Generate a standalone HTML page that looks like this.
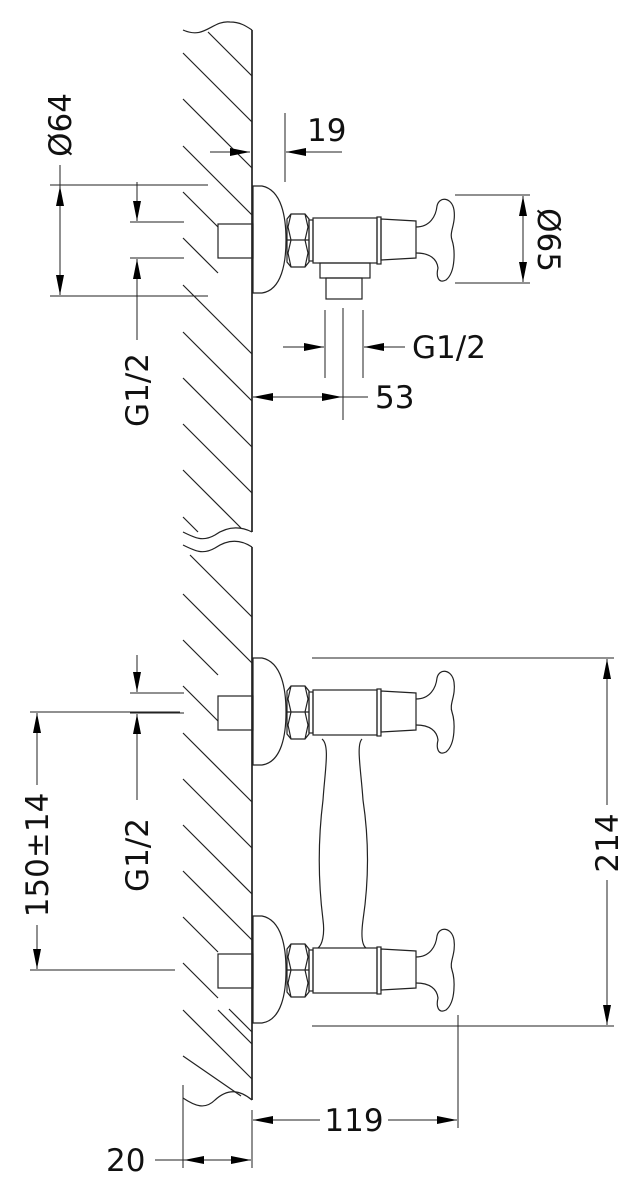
<!DOCTYPE html>
<html><head><meta charset="utf-8"><style>
html,body{margin:0;padding:0;background:#fff}
svg{display:block}
text{font-family:"DejaVu Sans","Liberation Sans",sans-serif;font-size:31px;fill:#111}
</style></head><body>
<svg width="636" height="1200" viewBox="0 0 636 1200" xmlns="http://www.w3.org/2000/svg">
<defs>
<marker id="a" viewBox="0 0 20 8" refX="20" refY="4" markerWidth="20" markerHeight="8" markerUnits="userSpaceOnUse" orient="auto"><path d="M0,0 L20,4 L0,8 z" fill="#000"/></marker>
<g id="hs" fill="none" stroke="#222" stroke-width="1.2">
<path d="M253,186 L253,293 L262,293 C282,290 286,262 286,240 C286,218 282,190 262,186 Z"/>
<rect x="218" y="224" width="35" height="34"/>
<path d="M287,219 L291,214 L305,214 L309,219 L309,262 L305,267 L291,267 L287,262 Z M287,240 L309,240 M291,214 L288,227 L291,240 L288,253 L291,267 M305,214 L308,227 L305,240 L308,253 L305,267"/>
<rect x="309" y="220" width="4" height="41"/>
<rect x="313" y="218" width="64" height="45"/>
<rect x="377" y="217" width="4" height="47"/>
<path d="M381,219 L416,221 L416,258 L381,260 Z"/>
<path d="M416,227 C430,227 436,216 437,206 C439,196 452,197 454,210 C456,224 449,232 452,240 C455,249 456,272 446,280 C438,284 436,276 438,268 C437,259 430,253 416,253"/>
</g>
</defs>
<g fill="none" stroke="#222" stroke-width="1.2">
<path d="M252,30 L252,532" stroke-width="1.7"/>
<path d="M183,30 C205,40 212,20 230,22 C240,22 246,26 252,30"/>
<path d="M183,532 C195,538 203,542 215,535 C228,526 240,526 252,532"/>
<path d="M183,545 C195,551 203,555 215,548 C228,539 240,539 252,547"/>
<path d="M252,547 L252,1100" stroke-width="1.7"/>
<path d="M183,1098 C195,1106 205,1110 215,1100 C228,1088 240,1090 252,1100"/>
<path d="M208,32 L252,76 M183,53 L252,122 M183,99 L252,168 M183,146 L252,215 M183,192 L218,227 M183,238 L218,273 M183,285 L252,354 M183,332 L252,401 M183,378 L252,447 M183,424 L252,493 M183,470 L241,528 M183,517 L198,532
M190,555 L252,617 M183,594 L252,663 M183,640 L218,675 M183,686 L218,721 M183,733 L252,802 M183,779 L252,848 M183,825 L252,894 M183,871 L252,940 M183,917 L218,952 M183,963 L218,998 M229,1009 L252,1032 M183,1010 L252,1079 M183,1056 L241,1096"/>
<path d="M218,1010 L252,1044"/>
</g>
<use href="#hs"/>
<use href="#hs" transform="translate(0,472)"/>
<use href="#hs" transform="translate(0,730)"/>
<g fill="none" stroke="#222" stroke-width="1.2">
<rect x="320" y="263" width="50" height="15"/>
<rect x="326" y="278" width="36" height="21"/>
<path d="M322,739 C330,745 325,770 323,800 C318,840 318,880 323,920 C325,935 322,945 318,948"/>
<path d="M362,739 C356,745 361,770 363,800 C369,840 369,880 363,920 C361,935 362,945 366,948"/>
</g>
<g fill="none" stroke="#222" stroke-width="1">
<path d="M285,113 L285,182"/>
<path d="M210,152 L250,152" marker-end="url(#a)"/>
<path d="M342,152 L286,152" marker-end="url(#a)"/>
<path d="M50,185 L208,185 M50,296 L208,296"/>
<path d="M60,165 L60,240" /><path d="M60,240 L60,186" marker-end="url(#a)"/><path d="M60,240 L60,295" marker-end="url(#a)"/>
<path d="M130,222 L184,222 M130,258 L184,258"/>
<path d="M137,182 L137,221" marker-end="url(#a)"/><path d="M137,340 L137,259" marker-end="url(#a)"/>
<path d="M455,195 L530,195 M455,283 L530,283"/>
<path d="M523,240 L523,196" marker-end="url(#a)"/><path d="M523,240 L523,282" marker-end="url(#a)"/>
<path d="M325,310 L325,378 M363,310 L363,378 M343,308 L343,420"/>
<path d="M283,347 L324,347" marker-end="url(#a)"/><path d="M405,347 L364,347" marker-end="url(#a)"/>
<path d="M300,397 L253,397" marker-end="url(#a)"/><path d="M300,397 L342,397" marker-end="url(#a)"/><path d="M342,397 L368,397"/>
<path d="M312,658 L614,658 M312,1026 L614,1026"/>
<path d="M607,805 L607,659" marker-end="url(#a)"/><path d="M607,880 L607,1025" marker-end="url(#a)"/>
<path d="M30,712 L180,712 M30,970 L175,970"/>
<path d="M37,785 L37,713" marker-end="url(#a)"/><path d="M37,925 L37,969" marker-end="url(#a)"/>
<path d="M130,693 L184,693 M130,713 L184,713"/>
<path d="M137,655 L137,692" marker-end="url(#a)"/><path d="M137,800 L137,714" marker-end="url(#a)"/>
<path d="M458,1015 L458,1128"/>
<path d="M320,1120 L253,1120" marker-end="url(#a)"/><path d="M388,1120 L457,1120" marker-end="url(#a)"/>
<path d="M183,1085 L183,1168 M252,1110 L252,1168"/>
<path d="M218,1160 L184,1160" marker-end="url(#a)"/><path d="M218,1160 L251,1160" marker-end="url(#a)"/><path d="M155,1160 L184,1160"/>
</g>
<text x="307" y="141">19</text>
<text transform="translate(71,125) rotate(-90)" text-anchor="middle">Ø64</text>
<text transform="translate(148,390) rotate(-90)" text-anchor="middle">G1/2</text>
<text transform="translate(538,240) rotate(90)" text-anchor="middle">Ø65</text>
<text x="412" y="358">G1/2</text>
<text x="375" y="408">53</text>
<text transform="translate(618,843) rotate(-90)" text-anchor="middle">214</text>
<text transform="translate(48,855) rotate(-90)" text-anchor="middle">150±14</text>
<text transform="translate(148,855) rotate(-90)" text-anchor="middle">G1/2</text>
<text x="354" y="1131" text-anchor="middle">119</text>
<text x="106" y="1171">20</text>
</svg>
</body></html>
